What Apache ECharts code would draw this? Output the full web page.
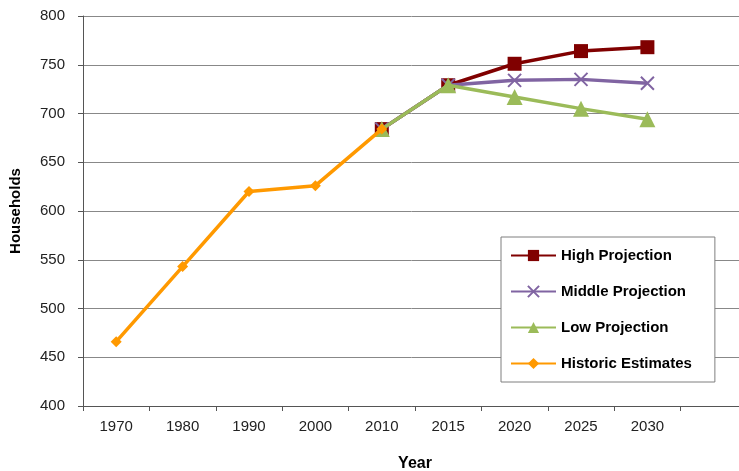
<!DOCTYPE html>
<html><head><meta charset="utf-8">
<script src="https://cdn.jsdelivr.net/npm/echarts@6/dist/echarts.min.js"></script>
<style>html,body{margin:0;padding:0;background:#fff;overflow:hidden}#c{width:739px;height:471px}</style>
</head><body><div id="c"></div>
<script>
const categories = ['1970','1980','1990','2000','2010','2015','2020','2025','2030',''];
const yTicks = [400,450,500,550,600,650,700,750,800];
const highProjection = [null,null,null,null,684,729,751,764,768,null];
const middleProjection = [null,null,null,null,684,729,734,735,731,null];
const lowProjection = [null,null,null,null,684,729,717,705,694,null];
const historicEstimates = [466,543,620,626,684,null,null,null,null,null];

const chart = echarts.init(document.getElementById('c'), null, {renderer:'canvas'});
const font = 'Arial, "Liberation Sans", sans-serif';
function line(name, data, color, symbol, size, z){
  return {name, type:'line', data, z, symbol, symbolSize:size, showSymbol:true,
    lineStyle:{color, width:3.5}, itemStyle:{color},
    connectNulls:false, animation:false};
}
const crossPath = 'path://M0,0 L10,10 M10,0 L0,10';
chart.setOption({
  animation:false,
  grid:{left:83, top:16, width:664, height:390, containLabel:false, outerBoundsMode:'none'},
  legend:{
    orient:'vertical', left:501, top:237,
    padding:[11,23,11,9], itemGap:21, itemWidth:45, itemHeight:14,
    borderColor:'#7f7f7f', borderWidth:1, backgroundColor:'#fff',
    textStyle:{fontFamily:font, fontSize:15, fontWeight:'bold', color:'#000'},
    data:['High Projection','Middle Projection','Low Projection','Historic Estimates']
  },
  xAxis:{type:'category', data:categories, boundaryGap:true,
    name:'Year', nameLocation:'middle', nameGap:50,
    nameTextStyle:{fontFamily:font, fontSize:16, fontWeight:'bold', color:'#000'},
    axisLine:{lineStyle:{color:'#555', width:1}},
    axisTick:{show:true, alignWithLabel:false, length:5, lineStyle:{color:'#555'}},
    axisLabel:{fontFamily:font, fontSize:15, color:'#222', margin:13, interval:0},
    splitLine:{show:false}},
  yAxis:{type:'value', min:yTicks[0], max:yTicks[yTicks.length-1], interval:50,
    name:'Households', nameLocation:'middle', nameGap:60, nameRotate:90,
    nameTextStyle:{fontFamily:font, fontSize:15, fontWeight:'bold', color:'#000'},
    axisLine:{show:true, lineStyle:{color:'#555', width:1}},
    axisTick:{show:true, length:5, lineStyle:{color:'#555'}},
    axisLabel:{fontFamily:font, fontSize:15, color:'#222', margin:18},
    splitLine:{show:true, lineStyle:{color:'#888', width:1}}},
  series:[
    line('High Projection', highProjection, '#800000', 'rect', 14, 2),
    {name:'Middle Projection', type:'line', data:middleProjection, z:3, symbol:crossPath, symbolSize:13,
      lineStyle:{color:'#8064A2', width:3.5}, itemStyle:{color:'transparent', borderColor:'#8064A2', borderWidth:2}},
    line('Low Projection', lowProjection, '#9BBB59', 'triangle', 16, 4),
    line('Historic Estimates', historicEstimates, '#FF9900', 'diamond', 11, 5)
  ]
});
</script></body></html>
